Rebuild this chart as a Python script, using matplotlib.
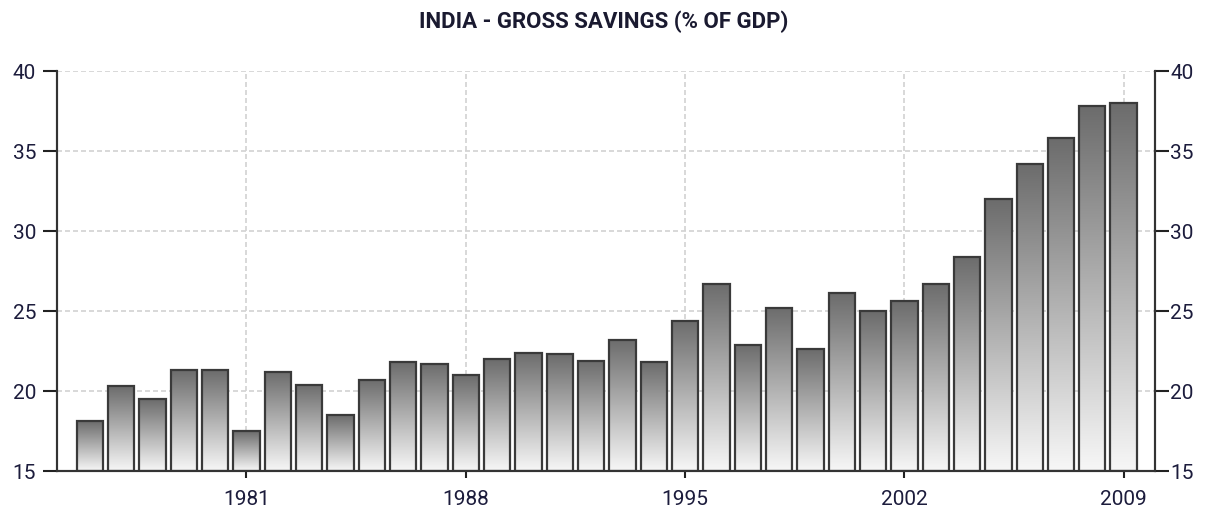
import matplotlib
matplotlib.use("Agg")
import matplotlib.pyplot as plt
import numpy as np

years = list(range(1976, 2010))
savings = [18.1, 20.3, 19.5, 21.3, 21.3, 17.5, 21.2, 20.4, 18.5, 20.7,
           21.8, 21.7, 21.0, 22.0, 22.4, 22.3, 21.9, 23.2, 21.8, 24.4,
           26.7, 22.9, 25.2, 22.6, 26.1, 25.0, 25.6, 26.7, 28.4, 32.0,
           34.2, 35.8, 37.8, 38.0]
xticks = [1981, 1988, 1995, 2002, 2009]
yticks = [15, 20, 25, 30, 35, 40]

plt.rcParams['font.family'] = ['Roboto', 'DejaVu Sans']
label_color = '#1c1c3c'

fig = plt.figure(figsize=(12.07, 5.18), dpi=100)
ax = fig.add_axes([0.0472, 0.0907, 0.9097, 0.7722])

ax.grid(True, color='#d2d2d2', linestyle=(0, (3, 1.8)), linewidth=1.2)
ax.set_axisbelow(True)

bars = ax.bar(years, [v - 15 for v in savings], bottom=15, width=0.84,
              facecolor='none', edgecolor='#3a3a3a', linewidth=1.6, zorder=3)

# vertical gradient: dark at the top, near white at the bottom
grad = np.linspace(0, 1, 256).reshape(-1, 1)
cmap = matplotlib.colors.LinearSegmentedColormap.from_list('g', ['#f7f7f7', '#6c6c6c'])
for b in bars:
    x0, y0 = b.get_x(), b.get_y()
    im = ax.imshow(grad, cmap=cmap, origin='lower', aspect='auto',
                   extent=(x0, x0 + b.get_width(), y0, y0 + b.get_height()),
                   zorder=2)
    im.set_clip_path(b)
ax.set_xlim(1974.95, 2010.0)
ax.set_ylim(15, 40)

ax.set_xticks(xticks)
ax.set_yticks(yticks)
ax.tick_params(axis='y', direction='out', length=10, width=1.5,
               color='#222222', labelsize=15, labelcolor=label_color, pad=5)
ax.tick_params(axis='x', direction='out', length=5, width=1.5, color='#222222',
               labelsize=15, labelcolor=label_color, pad=9)

# right-hand copy of the value axis
ax2 = ax.twinx()
ax2.set_ylim(15, 40)
ax2.set_yticks(yticks)
ax2.tick_params(axis='y', direction='out', length=10, width=1.5,
                color='#222222', labelsize=15, labelcolor=label_color, pad=1)

for a in (ax, ax2):
    a.spines['top'].set_visible(False)
    for s in ['left', 'right', 'bottom']:
        a.spines[s].set_color('#333333')
        a.spines[s].set_linewidth(1.5)

fig.text(0.5, 0.958, 'INDIA - GROSS SAVINGS (% OF GDP)', ha='center', va='center',
         fontsize=16, fontweight='bold', color='#1a1a30')

fig.savefig('out.png', dpi=100)
